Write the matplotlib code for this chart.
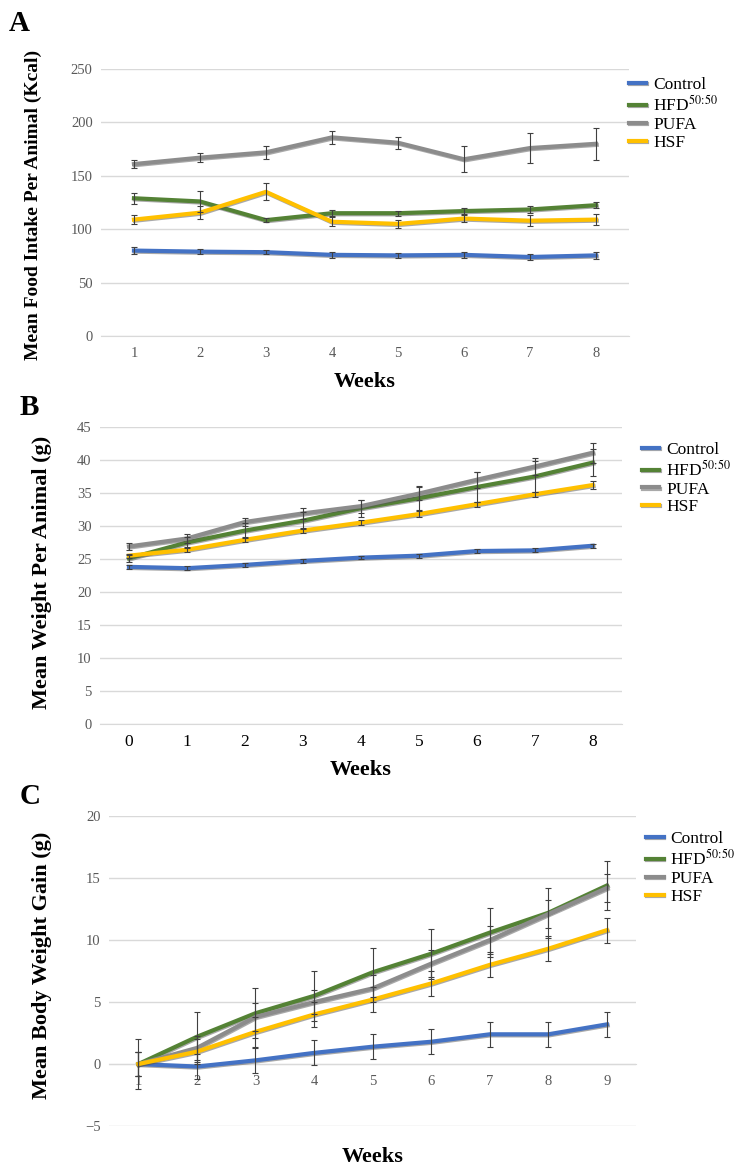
import matplotlib
matplotlib.use("Agg")
import matplotlib.pyplot as plt
import matplotlib.patheffects as pe

plt.rcParams['font.family'] = ['Liberation Serif', 'DejaVu Serif']
plt.rcParams['mathtext.fontset'] = 'stix'

# ---- data ----
groups = ['Control', r'HFD$^{\mathrm{50\!:\!50}}$', 'PUFA', 'HSF']
colors = ['#4472C4', '#548235', '#8C8C8C', '#FFC000']

# Panel A: food intake (Kcal), weeks 1-8
weeks_a = [1, 2, 3, 4, 5, 6, 7, 8]
food_control = [80, 79, 78.5, 76, 75.5, 76, 74, 75.5]
food_hfd = [129, 126, 108.5, 115, 115, 117, 118.5, 122.5]
food_pufa = [161, 167, 172, 186, 181, 165.5, 176, 180]
food_hsf = [109, 115.5, 135, 107, 105, 110, 108, 109]
food_control_err = [3, 2.5, 2, 2.5, 2.5, 2.5, 3, 3]
food_hfd_err = [5, 10, 2, 3, 2.5, 3, 3.5, 3]
food_pufa_err = [3.5, 4.5, 6, 6, 5.5, 12, 14, 15]
food_hsf_err = [4, 6, 8, 4, 4, 3, 5, 5]

# Panel B: body weight (g), weeks 0-8
weeks_b = [0, 1, 2, 3, 4, 5, 6, 7, 8]
wt_control = [23.8, 23.6, 24.1, 24.7, 25.2, 25.5, 26.2, 26.3, 27.0]
wt_hfd = [25.1, 27.5, 29.3, 30.8, 32.7, 34.2, 35.9, 37.5, 39.6]
wt_pufa = [26.9, 28.1, 30.6, 31.9, 33.0, 34.9, 37.0, 39.0, 41.1]
wt_hsf = [25.5, 26.4, 27.9, 29.3, 30.5, 31.8, 33.3, 34.8, 36.2]
wt_control_err = [0.3, 0.3, 0.3, 0.3, 0.2, 0.3, 0.3, 0.3, 0.3]
wt_hfd_err = [0.5, 0.9, 1.2, 1.3, 1.3, 1.8, 2.3, 2.3, 2.0]
wt_pufa_err = [0.5, 0.7, 0.6, 0.8, 1.0, 1.0, 1.2, 1.3, 1.5]
wt_hsf_err = [0.3, 0.4, 0.4, 0.4, 0.4, 0.4, 0.4, 0.4, 0.6]

# Panel C: body weight gain (g), weeks 1-9
weeks_c = [1, 2, 3, 4, 5, 6, 7, 8, 9]
gain_control = [0, -0.2, 0.3, 0.9, 1.4, 1.8, 2.4, 2.4, 3.2]
gain_hfd = [0, 2.2, 4.1, 5.5, 7.4, 8.9, 10.6, 12.2, 14.4]
gain_pufa = [0, 1.3, 3.8, 5.0, 6.1, 8.1, 10.0, 12.1, 14.2]
gain_hsf = [0, 1.0, 2.6, 4.0, 5.2, 6.5, 8.0, 9.3, 10.8]
gain_control_err = [1.0, 1.0, 1.0, 1.0, 1.0, 1.0, 1.0, 1.0, 1.0]
gain_hfd_err = [2.0, 2.0, 2.0, 2.0, 2.0, 2.0, 2.0, 2.0, 2.0]
gain_pufa_err = [1.0, 1.0, 1.1, 1.0, 1.1, 1.1, 1.1, 1.1, 1.1]
gain_hsf_err = [1.0, 1.0, 1.2, 1.0, 1.0, 1.0, 1.0, 1.0, 1.0]

GRID = '#D9D9D9'
TICK = '#595959'


def draw_panel(ax, x, series, errs, yticks, ylabel, ylabel_size, legend_xy, zero_axis=False):
    for vals, err, col, lab in zip(series, errs, colors, groups):
        ax.errorbar(x, vals, yerr=err, fmt='none', ecolor='#404040',
                    elinewidth=0.8, capsize=2, capthick=0.8, zorder=4)
        ax.plot(x, vals, color=col, lw=3, label=lab, zorder=3,
                path_effects=[pe.SimpleLineShadow(offset=(0.6, -0.8), shadow_color='#555555', alpha=0.5),
                              pe.Normal()])
    ax.set_xlim(x[0] - 0.5, x[-1] + 0.5)
    ax.set_ylim(yticks[0], yticks[-1])
    ax.set_yticks(yticks)
    ax.set_xticks(x)
    ax.grid(axis='y', color=GRID, lw=1)
    ax.set_axisbelow(True)
    for s in ['top', 'right', 'left']:
        ax.spines[s].set_visible(False)
    ax.spines['bottom'].set_color(GRID)
    if zero_axis:
        ax.spines['bottom'].set_position(('data', 0))
    ax.tick_params(axis='both', length=0, colors=TICK, labelsize=10.5)
    ax.tick_params(axis='y', pad=6)
    ax.set_ylabel(ylabel, fontsize=ylabel_size, fontweight='bold')
    ax.set_xlabel('Weeks', fontsize=16, fontweight='bold')
    ax.legend(loc='upper left', bbox_to_anchor=legend_xy, frameon=False,
              fontsize=12.5, handlelength=1.0, handletextpad=0.4, labelspacing=0.1,
              borderaxespad=0, borderpad=0)


fig = plt.figure(figsize=(7.37, 11.72), dpi=100)

ax_a = fig.add_axes([0.137, 0.7133, 0.7164, 0.2278])
draw_panel(ax_a, weeks_a, [food_control, food_hfd, food_pufa, food_hsf],
           [food_control_err, food_hfd_err, food_pufa_err, food_hsf_err],
           [0, 50, 100, 150, 200, 250], 'Mean Food Intake Per Animal (Kcal)', 14,
           (1.0, 0.97))
ax_a.tick_params(axis='x', pad=8)
ax_a.yaxis.set_label_coords(-0.112, 0.49)
ax_a.xaxis.set_label_coords(0.5, -0.135)

ax_b = fig.add_axes([0.1357, 0.3823, 0.7078, 0.2534])
draw_panel(ax_b, weeks_b, [wt_control, wt_hfd, wt_pufa, wt_hsf],
           [wt_control_err, wt_hfd_err, wt_pufa_err, wt_hsf_err],
           list(range(0, 46, 5)), 'Mean Weight Per Animal (g)', 16, (1.039, 0.95))
ax_b.tick_params(axis='x', labelsize=12.5, colors='black', pad=7)
ax_b.yaxis.set_label_coords(-0.092, 0.51)
ax_b.xaxis.set_label_coords(0.5, -0.121)

ax_c = fig.add_axes([0.148, 0.0392, 0.7152, 0.2645])
draw_panel(ax_c, weeks_c, [gain_control, gain_hfd, gain_pufa, gain_hsf],
           [gain_control_err, gain_hfd_err, gain_pufa_err, gain_hsf_err],
           [-5, 0, 5, 10, 15, 20], 'Mean Body Weight Gain (g)', 16, (1.019, 0.952),
           zero_axis=True)
ax_c.tick_params(axis='x', pad=8)
ax_c.yaxis.set_label_coords(-0.108, 0.52)
ax_c.xaxis.set_label_coords(0.5, -0.068)

for letter, x, y in [('A', 0.012, 0.980), ('B', 0.026, 0.652), ('C', 0.026, 0.320)]:
    fig.text(x, y, letter, fontsize=21, fontweight='bold', va='center', ha='left')

fig.savefig('out.png', dpi=100)
